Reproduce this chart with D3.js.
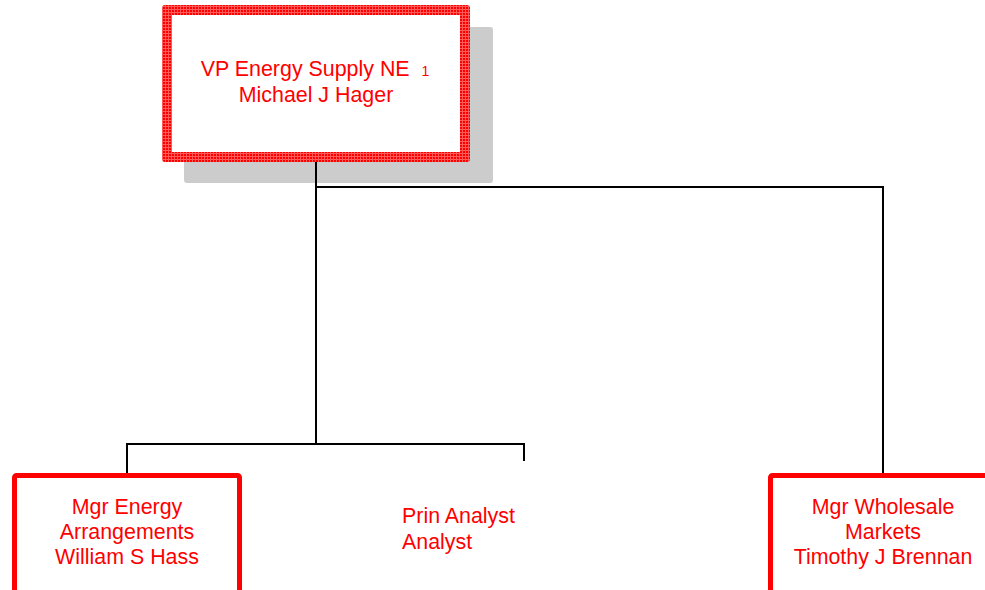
<!DOCTYPE html>
<meta charset="utf-8">
<title>Org chart</title>
<style>
  body { margin: 0; background: white; }
  svg { display: block; font-family: Arial, "Liberation Sans", sans-serif; }
  .lbl { fill: #ff0000; font-size: 21.4px; }
</style>
<body>
<script src="https://d3js.org/d3.v7.min.js"></script>
<script>
// chart data
const nodeIds = ["vp", "mgrEnergy", "prin", "mgrWholesale"];
const nodeLines = [
  ["VP Energy Supply NE", "Michael J Hager"],
  ["Mgr Energy", "Arrangements", "William S Hass"],
  ["Prin Analyst", "Analyst"],
  ["Mgr Wholesale", "Markets", "Timothy J Brennan"]
];
const nodeParents = [null, "vp", "vp", "vp"];
const nodeCounts = ["1", "", "", ""];
const nodeVacant = [false, false, true, false];

const W = 985, H = 590;

const svg = d3.select("body").append("svg")
  .attr("width", W).attr("height", H);

// layout: horizontal centre of each node and the vertical levels
const xPos = d3.scaleOrdinal().domain(nodeIds).range([316, 127, 524, 883]);
const yLevel = d3.scaleOrdinal().domain([0, 1]).range([5, 473]);

const nodes = nodeIds.map((id, i) => ({
  id: id, lines: nodeLines[i], parent: nodeParents[i],
  count: nodeCounts[i], vacant: nodeVacant[i], level: nodeParents[i] ? 1 : 0
}));

// hatched border pattern for the top box
const defs = svg.append("defs");
const pat = defs.append("pattern")
  .attr("id", "hatch").attr("patternUnits", "userSpaceOnUse")
  .attr("width", 3).attr("height", 3);
pat.append("rect").attr("width", 3).attr("height", 3).attr("fill", "#ff0000");
pat.append("rect").attr("x", 0).attr("y", 0).attr("width", 1).attr("height", 3).attr("fill", "#ff5a5a");
pat.append("rect").attr("x", 0).attr("y", 0).attr("width", 3).attr("height", 1).attr("fill", "#ff5a5a");

// top box sizes
const topW = 308, topH = 157, topBorder = 10;
const childW = 230, childH = 140;

const root = nodes[0];
const rx = xPos(root.id) - 154, ry = yLevel(0);

// shadow
svg.append("rect")
  .attr("x", rx + 22).attr("y", ry + 22)
  .attr("width", topW + 1).attr("height", topH - 1)
  .attr("rx", 3)
  .attr("fill", "#cccccc");

// connectors
const busTop = ry + topH + 25;      // 187
const busMid = 444;
const lines = svg.append("g").attr("stroke", "black").attr("stroke-width", 2).attr("fill", "none");
const vpX = xPos("vp");
lines.append("path").attr("d", `M${vpX},${ry + topH}V${busMid}`);
lines.append("path").attr("d", `M${vpX},${busTop}H${xPos("mgrWholesale")}V${yLevel(1)}`);
lines.append("path").attr("d",
  `M${xPos("mgrEnergy")},${yLevel(1)}V${busMid}H${xPos("prin")}V${busMid + 17}`);

// top box
svg.append("rect")
  .attr("x", rx).attr("y", ry).attr("width", topW).attr("height", topH)
  .attr("rx", 3).attr("fill", "url(#hatch)");
svg.append("rect")
  .attr("x", rx + topBorder).attr("y", ry + topBorder)
  .attr("width", topW - 2 * topBorder).attr("height", topH - 2 * topBorder)
  .attr("fill", "white");

const t0 = svg.append("text").attr("class", "lbl").attr("text-anchor", "middle")
  .attr("x", vpX - 1).attr("y", 76);
t0.append("tspan").text(root.lines[0] + "\u00a0\u00a0");
t0.append("tspan").style("font-size", "14px").text(root.count);
svg.append("text").attr("class", "lbl").attr("text-anchor", "middle")
  .attr("x", vpX).attr("y", 102).text(root.lines[1]);

// child boxes
const kids = nodes.filter(d => d.level === 1);
kids.filter(d => !d.vacant).forEach(d => {
  svg.append("rect")
    .attr("x", xPos(d.id) - childW / 2 + 2.5).attr("y", yLevel(1) + 2.5)
    .attr("width", childW - 5).attr("height", childH)
    .attr("rx", 2)
    .attr("fill", "white").attr("stroke", "#ff0000").attr("stroke-width", 5);
});

kids.forEach(d => {
  const vac = d.vacant;
  svg.append("text").attr("class", "lbl")
    .attr("text-anchor", vac ? "start" : "middle")
    .selectAll("tspan").data(d.lines).join("tspan")
      .attr("x", vac ? xPos(d.id) - 122 : xPos(d.id))
      .attr("y", (l, i) => (vac ? 523 : 514) + i * (vac ? 26 : 25))
      .text(l => l);
});
</script>
</body>
